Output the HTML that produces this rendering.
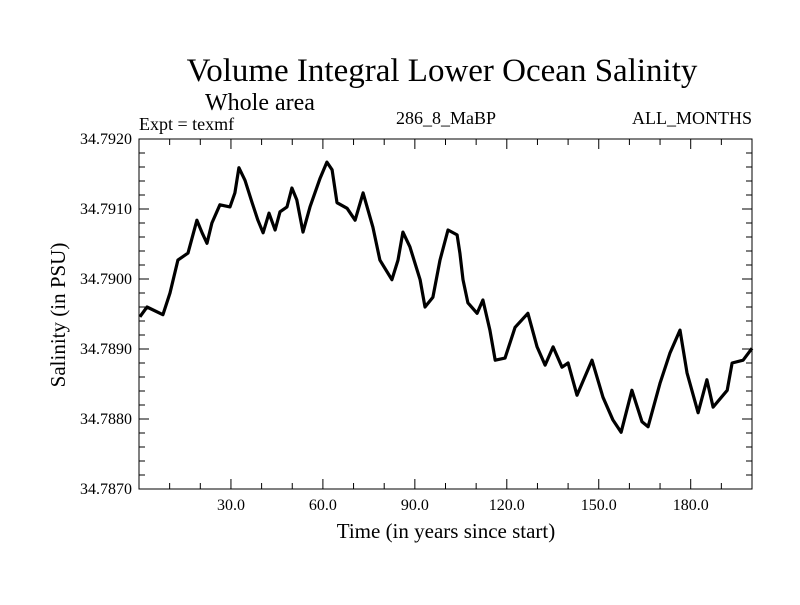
<!DOCTYPE html>
<html><head><meta charset="utf-8"><style>
body{margin:0;background:#fff;}
svg text{font-family:"Liberation Serif",serif;fill:#000;}
</style></head><body>
<svg id="chart" width="800" height="600" xmlns="http://www.w3.org/2000/svg">
<rect width="800" height="600" fill="#fff"/>
<text x="442" y="81" font-size="33" text-anchor="middle">Volume Integral Lower Ocean Salinity</text>
<text x="205" y="110" font-size="24">Whole area</text>
<text x="139" y="130" font-size="18">Expt = texmf</text>
<text x="446" y="124" font-size="18" text-anchor="middle">286_8_MaBP</text>
<text x="752" y="124" font-size="18" text-anchor="end">ALL_MONTHS</text>
<text x="446" y="538" font-size="21" text-anchor="middle">Time (in years since start)</text>
<text transform="translate(65,315) rotate(-90)" font-size="21" text-anchor="middle">Salinity (in PSU)</text>
<g id="axes"></g>
<g id="marks"></g>
</svg>
<script>
const years=[0.3,2.6,7.8,10.1,12.7,16.0,18.9,20.6,22.2,23.8,26.4,29.7,31.3,32.6,34.6,36.9,38.8,40.5,42.4,44.4,46.0,48.3,49.9,51.5,53.5,55.8,59.1,61.3,63.0,64.6,67.9,70.5,73.1,76.3,78.6,82.5,84.5,86.1,88.4,91.7,93.3,95.9,98.2,100.8,103.8,104.7,105.7,107.3,110.3,112.2,114.5,116.2,119.4,122.7,126.9,129.9,132.5,135.1,138.0,140.0,142.9,147.8,151.4,154.6,157.3,160.8,164.1,166.1,170.0,173.2,176.5,178.8,182.4,185.3,187.3,191.9,193.5,197.1,200];
const salinity=[34.78946,34.78960,34.78949,34.78980,34.79027,34.79037,34.79084,34.79066,34.79051,34.79080,34.79106,34.79103,34.79123,34.79159,34.79141,34.79109,34.79084,34.79066,34.79094,34.79070,34.79096,34.79103,34.79130,34.79113,34.79067,34.79103,34.79144,34.79167,34.79156,34.79109,34.79101,34.79084,34.79123,34.79074,34.79027,34.78999,34.79027,34.79067,34.79046,34.78999,34.78960,34.78974,34.79027,34.79070,34.79063,34.79037,34.78999,34.78966,34.78951,34.78970,34.78927,34.78884,34.78887,34.78931,34.78951,34.78903,34.78877,34.78903,34.78874,34.78880,34.78834,34.78884,34.78831,34.78799,34.78781,34.78841,34.78796,34.78789,34.78851,34.78894,34.78927,34.78866,34.78809,34.78856,34.78817,34.78841,34.78880,34.78884,34.78901];
const xTicks=[30,60,90,120,150,180];
const xTickLabels=["30.0","60.0","90.0","120.0","150.0","180.0"];
const yTicks=[34.787,34.788,34.789,34.790,34.791,34.792];
const yTickLabels=["34.7870","34.7880","34.7890","34.7900","34.7910","34.7920"];
const L=139,R=752,T=139,B=489,X0=0,X1=200,Y0=34.787,Y1=34.792;
const sx=v=>L+(v-X0)/(X1-X0)*(R-L);
const sy=v=>B-(v-Y0)/(Y1-Y0)*(B-T);
const NS="http://www.w3.org/2000/svg";
const axes=document.getElementById('axes'),marks=document.getElementById('marks');
function mk(tag,attrs,parent){const e=document.createElementNS(NS,tag);for(const k in attrs)e.setAttribute(k,attrs[k]);parent.appendChild(e);return e;}
const frame=mk('rect',{x:L,y:T,width:R-L,height:B-T,fill:'none',stroke:'#000','stroke-width':1},axes);


for(let v=10;v<X1;v+=10){const x=sx(v);const len=(v%30===0)?10:6;
 mk('line',{x1:x,x2:x,y1:B,y2:B-len,stroke:'#000'},axes);mk('line',{x1:x,x2:x,y1:T,y2:T+len,stroke:'#000'},axes);}
for(let i=1;i<25;i++){const v=Y0+i*0.0002;const y=sy(v);const len=(i%5===0)?10:6;
 mk('line',{x1:L,x2:L+len,y1:y,y2:y,stroke:'#000'},axes);mk('line',{x1:R,x2:R-len,y1:y,y2:y,stroke:'#000'},axes);}
xTicks.forEach((v,i)=>{const t=mk('text',{x:sx(v),y:B+21,'font-size':16,'text-anchor':'middle'},axes);t.textContent=xTickLabels[i];
 
 });
yTicks.forEach((v,i)=>{const t=mk('text',{x:L-7,y:sy(v)+5,'font-size':16,'text-anchor':'end'},axes);t.textContent=yTickLabels[i];
 
 });
const d=years.map((y,i)=>(i?'L':'M')+sx(y).toFixed(1)+','+sy(salinity[i]).toFixed(1)).join(' ');
const p=mk('path',{d:d,fill:'none',stroke:'#000','stroke-width':3.2,'stroke-linejoin':'round'},marks);


</script>
</body></html>
